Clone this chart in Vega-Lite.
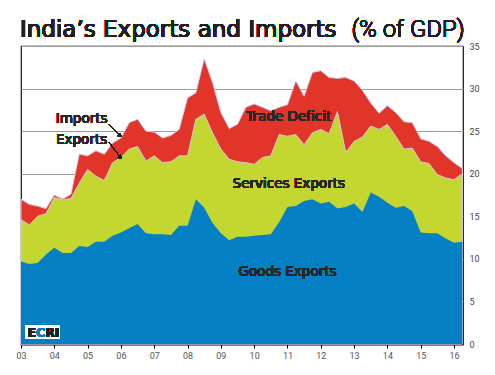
{
  "$schema": "https://vega.github.io/schema/vega-lite/v6.json",
  "width": 442,
  "height": 298,
  "autosize": {"type": "none"},
  "padding": {"left": 21, "top": 46, "right": 32, "bottom": 31},
  "background": "white",
  "config": {
    "view": {"stroke": "#111", "strokeWidth": 1.2},
    "font": "DejaVu Sans",
    "axisX": {"labelOverlap": false, "labelFlush": false, "labelFont": "Roboto"},
    "axisY": {"labelOverlap": false, "labelFont": "Roboto"}
  },
  "data": {"values": [
    {"t": 2003.00, "goods": 9.7, "exports": 14.6, "imports": 17.0},
    {"t": 2003.25, "goods": 9.4, "exports": 14.0, "imports": 16.4},
    {"t": 2003.50, "goods": 9.5, "exports": 15.0, "imports": 16.2},
    {"t": 2003.75, "goods": 10.5, "exports": 15.3, "imports": 15.9},
    {"t": 2004.00, "goods": 11.3, "exports": 17.2, "imports": 17.5},
    {"t": 2004.25, "goods": 10.7, "exports": 16.9, "imports": 17.0},
    {"t": 2004.50, "goods": 10.7, "exports": 17.1, "imports": 17.6},
    {"t": 2004.75, "goods": 11.5, "exports": 18.9, "imports": 22.3},
    {"t": 2005.00, "goods": 11.4, "exports": 20.5, "imports": 22.1},
    {"t": 2005.25, "goods": 12.0, "exports": 19.7, "imports": 22.7},
    {"t": 2005.50, "goods": 12.0, "exports": 19.2, "imports": 22.3},
    {"t": 2005.75, "goods": 12.7, "exports": 21.3, "imports": 23.6},
    {"t": 2006.00, "goods": 13.1, "exports": 21.9, "imports": 24.2},
    {"t": 2006.25, "goods": 13.6, "exports": 22.9, "imports": 26.0},
    {"t": 2006.50, "goods": 14.1, "exports": 23.2, "imports": 26.4},
    {"t": 2006.75, "goods": 13.0, "exports": 21.5, "imports": 25.0},
    {"t": 2007.00, "goods": 12.9, "exports": 22.1, "imports": 24.9},
    {"t": 2007.25, "goods": 12.9, "exports": 21.3, "imports": 24.2},
    {"t": 2007.50, "goods": 12.8, "exports": 21.4, "imports": 24.5},
    {"t": 2007.75, "goods": 13.9, "exports": 22.1, "imports": 25.2},
    {"t": 2008.00, "goods": 13.9, "exports": 22.1, "imports": 28.9},
    {"t": 2008.25, "goods": 17.0, "exports": 26.4, "imports": 29.5},
    {"t": 2008.50, "goods": 16.0, "exports": 27.0, "imports": 33.5},
    {"t": 2008.75, "goods": 14.2, "exports": 24.8, "imports": 30.7},
    {"t": 2009.00, "goods": 13.0, "exports": 22.9, "imports": 27.2},
    {"t": 2009.25, "goods": 12.2, "exports": 21.7, "imports": 25.3},
    {"t": 2009.50, "goods": 12.6, "exports": 21.4, "imports": 25.8},
    {"t": 2009.75, "goods": 12.6, "exports": 21.3, "imports": 27.8},
    {"t": 2010.00, "goods": 12.7, "exports": 21.1, "imports": 28.2},
    {"t": 2010.25, "goods": 12.8, "exports": 21.9, "imports": 27.8},
    {"t": 2010.50, "goods": 12.9, "exports": 22.1, "imports": 27.4},
    {"t": 2010.75, "goods": 14.3, "exports": 24.6, "imports": 27.8},
    {"t": 2011.00, "goods": 16.1, "exports": 24.4, "imports": 28.1},
    {"t": 2011.25, "goods": 16.2, "exports": 24.6, "imports": 30.9},
    {"t": 2011.50, "goods": 16.8, "exports": 23.4, "imports": 29.1},
    {"t": 2011.75, "goods": 17.0, "exports": 24.8, "imports": 31.9},
    {"t": 2012.00, "goods": 16.5, "exports": 25.2, "imports": 32.1},
    {"t": 2012.25, "goods": 16.7, "exports": 24.7, "imports": 31.3},
    {"t": 2012.50, "goods": 15.9, "exports": 27.3, "imports": 31.2},
    {"t": 2012.75, "goods": 16.1, "exports": 22.5, "imports": 31.3},
    {"t": 2013.00, "goods": 16.5, "exports": 23.8, "imports": 30.9},
    {"t": 2013.25, "goods": 15.5, "exports": 24.3, "imports": 29.8},
    {"t": 2013.50, "goods": 17.8, "exports": 25.6, "imports": 28.3},
    {"t": 2013.75, "goods": 17.3, "exports": 25.2, "imports": 27.1},
    {"t": 2014.00, "goods": 16.6, "exports": 25.8, "imports": 28.0},
    {"t": 2014.25, "goods": 16.0, "exports": 24.4, "imports": 27.2},
    {"t": 2014.50, "goods": 16.2, "exports": 22.9, "imports": 26.1},
    {"t": 2014.75, "goods": 15.6, "exports": 23.0, "imports": 26.0},
    {"t": 2015.00, "goods": 13.1, "exports": 21.4, "imports": 24.1},
    {"t": 2015.25, "goods": 13.0, "exports": 21.2, "imports": 23.8},
    {"t": 2015.50, "goods": 13.0, "exports": 19.9, "imports": 23.2},
    {"t": 2015.75, "goods": 12.4, "exports": 19.5, "imports": 22.1},
    {"t": 2016.00, "goods": 11.9, "exports": 19.3, "imports": 21.3},
    {"t": 2016.25, "goods": 12.0, "exports": 20.0, "imports": 20.6}
  ]},
  "resolve": {"axis": {"x": "independent", "y": "independent"}},
  "layer": [
    {
      "encoding": {
        "x": {"field": "t", "type": "quantitative",
          "scale": {"domain": [2003, 2016.27], "nice": false, "zero": false},
          "axis": {"values": [2003, 2004, 2005, 2006, 2007, 2008, 2009, 2010, 2011, 2012, 2013, 2014, 2015, 2016],
            "labelExpr": "substring(toString(datum.value), 2)", "grid": false, "title": null,
            "domainColor": "#000", "domainWidth": 2, "tickColor": "#000", "tickSize": 4,
            "labelFontSize": 9, "labelColor": "#555", "labelPadding": 3, "labelOverlap": false}},
        "y": {"type": "quantitative",
          "scale": {"domain": [0, 35], "nice": false},
          "axis": {"orient": "right", "values": [0, 5, 10, 15, 20, 25, 30, 35], "grid": true,
            "gridColor": "#9a9a9a", "gridWidth": 1, "domain": false, "ticks": false, "title": null,
            "labelFontSize": 9, "labelColor": "#444", "labelPadding": 6, "labelOverlap": false}}
      },
      "layer": [
        {
          "mark": {"type": "area", "color": "#e2352a", "stroke": "#d6c6e2", "strokeWidth": 1},
          "encoding": {"y": {"field": "imports"}}
        },
        {
          "mark": {"type": "area", "color": "#c3d730", "stroke": "#d6c6e2", "strokeWidth": 1},
          "encoding": {"y": {"field": "exports"}}
        },
        {
          "mark": {"type": "area", "color": "#0580c4"},
          "encoding": {"y": {"field": "goods"}}
        }
      ]
    },
    {
      "layer": [
        {
          "mark": {"type": "text", "text": "Imports", "fontSize": 13.5, "fill": "#2b2728", "align": "center", "baseline": "middle"},
          "encoding": {"x": {"datum": 2004.82, "axis": null}, "y": {"datum": 26.4, "axis": null}}
        },
        {
          "mark": {"type": "text", "text": "Exports", "fontSize": 13.5, "fill": "#2b2728", "align": "center", "baseline": "middle"},
          "encoding": {"x": {"datum": 2004.82, "axis": null}, "y": {"datum": 24.0, "axis": null}}
        },
        {
          "mark": {"type": "rule", "color": "#231f20", "strokeWidth": 1},
          "encoding": {"x": {"datum": 2005.65, "axis": null}, "x2": {"datum": 2005.97}, "y": {"datum": 25.8, "axis": null}, "y2": {"datum": 24.5}}
        },
        {
          "mark": {"type": "rule", "color": "#231f20", "strokeWidth": 1},
          "encoding": {"x": {"datum": 2005.65, "axis": null}, "x2": {"datum": 2005.97}, "y": {"datum": 23.64, "axis": null}, "y2": {"datum": 22.0}}
        },
        {
          "mark": {"type": "point", "shape": "triangle-up", "filled": true, "color": "#231f20", "size": 18, "angle": 135, "opacity": 1},
          "encoding": {"x": {"datum": 2005.98, "axis": null}, "y": {"datum": 24.45, "axis": null}}
        },
        {
          "mark": {"type": "point", "shape": "triangle-up", "filled": true, "color": "#231f20", "size": 18, "angle": 142, "opacity": 1},
          "encoding": {"x": {"datum": 2005.98, "axis": null}, "y": {"datum": 21.9, "axis": null}}
        },
        {
          "mark": {"type": "text", "text": "Trade Deficit", "fontSize": 13.5, "fill": "#2b2728", "align": "center", "baseline": "middle"},
          "encoding": {"x": {"datum": 2011.04, "axis": null}, "y": {"datum": 26.7, "axis": null}}
        },
        {
          "mark": {"type": "text", "text": "Services Exports", "fontSize": 13.5, "fill": "#2b2728", "align": "center", "baseline": "middle"},
          "encoding": {"x": {"datum": 2011.04, "axis": null}, "y": {"datum": 18.85, "axis": null}}
        },
        {
          "mark": {"type": "text", "text": "Goods Exports", "fontSize": 13.5, "fill": "#2b2728", "align": "center", "baseline": "middle"},
          "encoding": {"x": {"datum": 2011.0, "axis": null}, "y": {"datum": 8.5, "axis": null}}
        },
        {
          "mark": {"type": "rect", "color": "white"},
          "encoding": {"x": {"datum": 2003.12, "axis": null}, "x2": {"datum": 2004.17}, "y": {"datum": 0.59, "axis": null}, "y2": {"datum": 2.24}}
        },
        {
          "mark": {"type": "text", "text": "E", "fontSize": 12.5, "fontWeight": "bold", "fill": "#231f20", "align": "left", "baseline": "alphabetic"},
          "encoding": {"x": {"datum": 2003.195, "axis": null}, "y": {"datum": 0.86, "axis": null}}
        },
        {
          "mark": {"type": "text", "text": "C", "fontSize": 12.5, "fontWeight": "bold", "fill": "#0580c4", "align": "left", "baseline": "alphabetic"},
          "encoding": {"x": {"datum": 2003.45, "axis": null}, "y": {"datum": 0.86, "axis": null}}
        },
        {
          "mark": {"type": "text", "text": "RI", "fontSize": 12.5, "fontWeight": "bold", "fill": "#231f20", "align": "left", "baseline": "alphabetic"},
          "encoding": {"x": {"datum": 2003.726, "axis": null}, "y": {"datum": 0.86, "axis": null}}
        },
        {
          "mark": {"type": "text", "text": "India’s Exports and Imports", "fontSize": 23, "fill": "#231f20", "align": "left", "baseline": "alphabetic"},
          "encoding": {"x": {"datum": 2002.97, "axis": null}, "y": {"datum": 36.04, "axis": null}}
        },
        {
          "mark": {"type": "text", "text": "(% of GDP)", "font": "Roboto", "fontSize": 24, "fontWeight": 300, "fill": "#231f20", "align": "right", "baseline": "alphabetic"},
          "encoding": {"x": {"datum": 2016.32, "axis": null}, "y": {"datum": 36.04, "axis": null}}
        }
      ]
    }
  ]
}
